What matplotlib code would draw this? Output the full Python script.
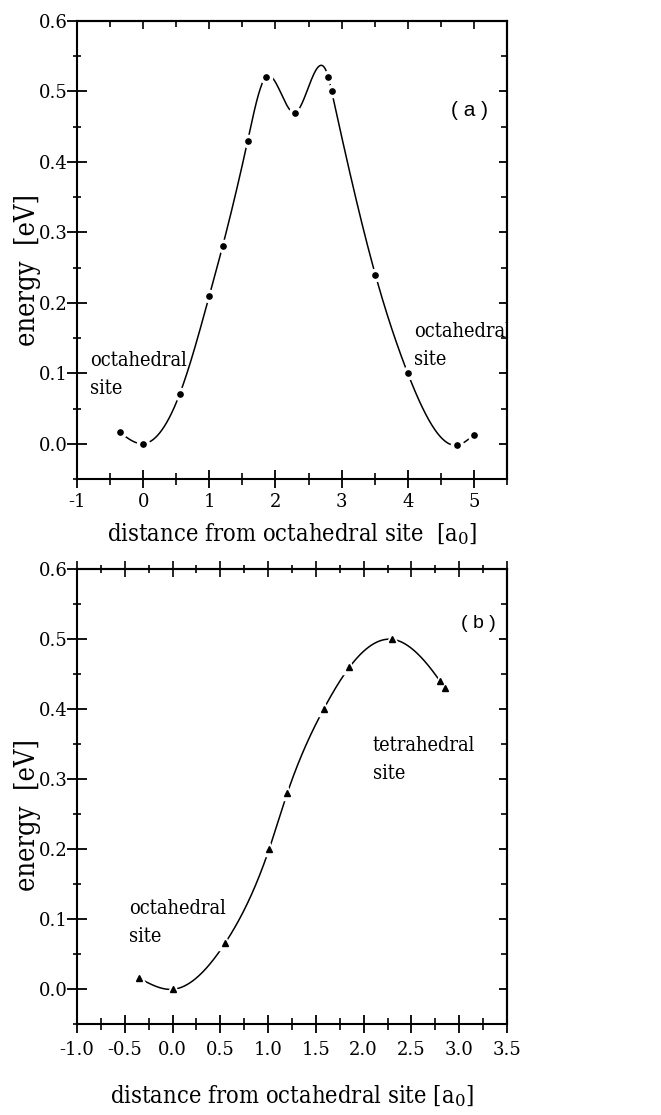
import numpy as np
import matplotlib
matplotlib.use("Agg")
import matplotlib.pyplot as plt
from matplotlib.ticker import MultipleLocator, FormatStrFormatter

# panel (a): octahedral -> octahedral path
dist_a = [-0.35, 0.0, 0.55, 1.0, 1.2, 1.58, 1.85, 2.3, 2.8, 2.85, 3.51, 4.0, 4.75, 5.0]
energy_a = [0.016, 0.0, 0.07, 0.21, 0.28, 0.43, 0.52, 0.47, 0.52, 0.50, 0.24, 0.10, -0.002, 0.013]

# panel (b): octahedral -> tetrahedral path
dist_b = [-0.35, 0.0, 0.55, 1.01, 1.2, 1.58, 1.85, 2.3, 2.8, 2.85]
energy_b = [0.016, 0.0, 0.066, 0.20, 0.28, 0.40, 0.46, 0.50, 0.44, 0.43]

plt.rcParams['axes.unicode_minus'] = False
plt.rcParams['mathtext.fontset'] = 'dejavuserif'
SERIF = 'DejaVu Serif'
serif_lab = dict(family=SERIF, fontstretch='condensed')


def natural_spline(x, y, n=600):
    x = np.asarray(x, float)
    y = np.asarray(y, float)
    m = len(x)
    h = np.diff(x)
    A = np.zeros((m, m))
    r = np.zeros(m)
    A[0, 0] = A[-1, -1] = 1.0
    for i in range(1, m - 1):
        A[i, i - 1] = h[i - 1]
        A[i, i] = 2 * (h[i - 1] + h[i])
        A[i, i + 1] = h[i]
        r[i] = 3 * ((y[i + 1] - y[i]) / h[i] - (y[i] - y[i - 1]) / h[i - 1])
    c = np.linalg.solve(A, r)
    b = (y[1:] - y[:-1]) / h - h * (2 * c[:-1] + c[1:]) / 3
    d = (c[1:] - c[:-1]) / (3 * h)
    xs = np.linspace(x[0], x[-1], n)
    k = np.clip(np.searchsorted(x, xs, side='right') - 1, 0, m - 2)
    t = xs - x[k]
    return xs, y[k] + b[k] * t + c[k] * t ** 2 + d[k] * t ** 3


def style_axes(ax, xmaj, xmin, xfmt, top_cross, xpad):
    for s in ax.spines.values():
        s.set_linewidth(1.5)
    ax.xaxis.set_major_locator(MultipleLocator(xmaj))
    ax.xaxis.set_minor_locator(MultipleLocator(xmin))
    ax.xaxis.set_major_formatter(FormatStrFormatter(xfmt))
    ax.yaxis.set_major_locator(MultipleLocator(0.1))
    ax.yaxis.set_minor_locator(MultipleLocator(0.05))
    ax.yaxis.set_major_formatter(FormatStrFormatter('%.1f'))
    ax.tick_params(axis='y', which='major', direction='inout', length=14, width=1.3, pad=0,
                   labelsize=13, labelfontfamily=SERIF)
    ax.tick_params(axis='y', which='minor', direction='inout', length=6, width=1.2)
    ax.tick_params(axis='x', which='major', direction='inout', length=12.5, width=1.3, pad=xpad,
                   labelsize=13, labelfontfamily=SERIF)
    ax.tick_params(axis='x', which='minor', direction='inout', length=8, width=1.2)

    # right side: inward ticks only
    sy = ax.secondary_yaxis('right')
    sy.yaxis.set_major_locator(MultipleLocator(0.1))
    sy.yaxis.set_minor_locator(MultipleLocator(0.05))
    sy.tick_params(which='major', direction='in', length=6, width=1.3, labelright=False)
    sy.tick_params(which='minor', direction='in', length=4, width=1.2)
    sy.spines['right'].set_linewidth(1.5)

    sx = ax.secondary_xaxis('top')
    sx.xaxis.set_major_locator(MultipleLocator(xmaj))
    sx.xaxis.set_minor_locator(MultipleLocator(xmin))
    if top_cross:
        sx.tick_params(which='major', direction='inout', length=12, width=1.2, labeltop=False)
        sx.tick_params(which='minor', direction='inout', length=6, width=1.2)
    else:
        sx.tick_params(which='major', direction='in', length=6, width=1.2, labeltop=False)
        sx.tick_params(which='minor', direction='in', length=4, width=1.2)
    sx.spines['top'].set_linewidth(1.5)


def draw_curve(ax, x, y, marker, ms):
    xs, ys = natural_spline(x, y)
    ax.plot(xs, ys, color='black', lw=1.1, zorder=2)
    ax.plot(x, y, marker, color='white', ms=ms + 5, ls='none', zorder=3)
    ax.plot(x, y, marker, color='black', ms=ms, ls='none', zorder=4)


fig = plt.figure(figsize=(6.61, 11.15), dpi=100)
note = dict(fontsize=14.3, ha='left', va='center', linespacing=1.6, **serif_lab)

# (a)
ax_a = fig.add_axes([0.1165, 0.5704, 0.6505, 0.4108])
ax_a.set_xlim(-1, 5.5)
ax_a.set_ylim(-0.05, 0.6)
style_axes(ax_a, 1, 0.5, '%d', top_cross=False, xpad=4)
draw_curve(ax_a, dist_a, energy_a, 'o', 3.8)
ax_a.text(4.93, 0.473, '( a )', family='Liberation Sans', fontsize=15, ha='center', va='center')
ax_a.text(-0.80, 0.098, 'octahedral\nsite', **note)
ax_a.text(4.10, 0.139, 'octahedral\nsite', clip_on=True, **note)
ax_a.set_xlabel('distance from octahedral site  [a$_0$]', fontsize=17, labelpad=7, **serif_lab)
ax_a.set_ylabel('energy  [eV]', fontsize=19.5, **serif_lab)
ax_a.yaxis.set_label_coords(-0.084, 0.456)

# (b)
ax_b = fig.add_axes([0.1165, 0.0813, 0.6505, 0.4081])
ax_b.set_xlim(-1.0, 3.5)
ax_b.set_ylim(-0.05, 0.6)
style_axes(ax_b, 0.5, 0.25, '%.1f', top_cross=True, xpad=6)
draw_curve(ax_b, dist_b, energy_b, '^', 4.5)
ax_b.text(3.20, 0.523, '( b )', family='Liberation Sans', fontsize=14, ha='center', va='center')
ax_b.text(-0.456, 0.096, 'octahedral\nsite', **note)
ax_b.text(2.096, 0.329, 'tetrahedral\nsite', **note)
ax_b.set_xlabel('distance from octahedral site [a$_0$]', fontsize=17, labelpad=17, **serif_lab)
ax_b.set_ylabel('energy  [eV]', fontsize=19.5, **serif_lab)
ax_b.yaxis.set_label_coords(-0.084, 0.46)

fig.savefig('out.png', dpi=100)
